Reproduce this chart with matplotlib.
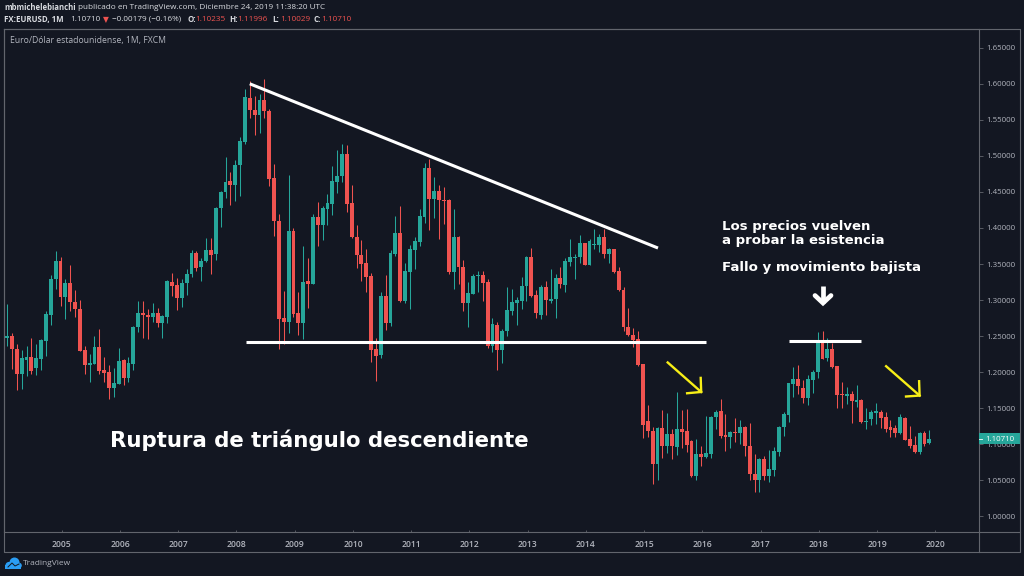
#!/usr/bin/env python
# coding: utf-8

"""Monthly EUR/USD candles with the hand drawn triangle, TradingView dark look."""

import numpy
import matplotlib
matplotlib.use("Agg")
import matplotlib.pyplot as plt
from matplotlib.patches import Circle, Rectangle

opens = [
  1.2472,1.2500,1.2324,1.1981,1.2176,1.2204,1.2060,1.2185,1.2435,1.2796,
  1.3287,1.3542,1.3046,1.3236,1.2972,1.2875,1.2305,1.2102,1.2120,1.2352,
  1.2028,1.2000,1.1782,1.1838,1.2167,1.1917,1.2116,1.2630,1.2819,1.2792,
  1.2764,1.2815,1.2676,1.2764,1.3255,1.3208,1.3032,1.3231,1.3361,1.3657,
  1.3453,1.3537,1.3694,1.3639,1.4282,1.4504,1.4653,1.4597,1.4870,1.5194,
  1.5806,1.5634,1.5565,1.5778,1.5625,1.4690,1.4102,1.2745,1.2694,1.3958,
  1.2819,1.2680,1.3259,1.3222,1.4148,1.4037,1.4264,1.4333,1.4643,1.4722,
  1.5028,1.4342,1.3879,1.3625,1.3514,1.3333,1.2315,1.2236,1.3055,1.2676,
  1.3639,1.3926,1.2986,1.3393,1.3694,1.3805,1.4157,1.4828,1.4402,1.4514,
  1.4393,1.4384,1.3393,1.3870,1.3462,1.2958,1.3087,1.3328,1.3347,1.3245,
  1.2361,1.2657,1.2305,1.2569,1.2851,1.2962,1.2990,1.3194,1.3592,1.3069,
  1.2800,1.3185,1.2981,1.3013,1.3310,1.3212,1.3527,1.3587,1.3592,1.3787,
  1.3486,1.3759,1.3763,1.3879,1.3638,1.3703,1.3407,1.3134,1.2629,1.2513,
  1.2467,1.2111,1.1319,1.1185,1.0722,1.1226,1.0972,1.1138,1.0963,1.1213,
  1.1180,1.1041,1.0555,1.0870,1.0819,1.0861,1.1375,1.1458,1.1134,1.1101,
  1.1166,1.1152,1.1236,1.0981,1.0592,1.0504,1.0791,1.0564,1.0648,1.0898,
  1.1236,1.1412,1.1838,1.1912,1.1787,1.1643,1.1893,1.2000,1.2435,1.2194,
  1.2324,1.2083,1.1694,1.1666,1.1703,1.1588,1.1620,1.1310,1.1347,1.1440,
  1.1449,1.1375,1.1236,1.1222,1.1157,1.1365,1.1074,1.0990,1.0888,1.1152,
  1.10235]
closes = [
  1.2500,1.2315,1.1981,1.2194,1.2204,1.2014,1.2194,1.2444,1.2806,1.3292,
  1.3546,1.3046,1.3236,1.2972,1.2875,1.2296,1.2102,1.2125,1.2352,1.2014,
  1.1991,1.1787,1.1847,1.2162,1.1917,1.2125,1.2630,1.2819,1.2792,1.2764,
  1.2815,1.2676,1.2773,1.3259,1.3199,1.3032,1.3236,1.3366,1.3657,1.3449,
  1.3546,1.3694,1.3625,1.4273,1.4504,1.4643,1.4597,1.4875,1.5204,1.5810,
  1.5630,1.5569,1.5778,1.5616,1.4680,1.4097,1.2736,1.2694,1.3958,1.2805,
  1.2680,1.3254,1.3227,1.4148,1.4041,1.4273,1.4342,1.4653,1.4727,1.5028,
  1.4333,1.3870,1.3620,1.3504,1.3319,1.2310,1.2231,1.3051,1.2676,1.3648,
  1.3926,1.2981,1.3403,1.3704,1.3815,1.4166,1.4828,1.4402,1.4514,1.4384,
  1.4379,1.3393,1.3870,1.3453,1.2962,1.3092,1.3337,1.3347,1.3236,1.2365,
  1.2662,1.2305,1.2578,1.2861,1.2967,1.2995,1.3199,1.3592,1.3060,1.2824,
  1.3185,1.3000,1.3018,1.3310,1.3217,1.3537,1.3592,1.3597,1.3787,1.3486,
  1.3819,1.3773,1.3879,1.3638,1.3703,1.3393,1.3134,1.2624,1.2518,1.2444,
  1.2097,1.1273,1.1185,1.0722,1.1226,1.0981,1.1138,1.0972,1.1217,1.1166,
  1.0995,1.0555,1.0861,1.0824,1.0875,1.1384,1.1449,1.1120,1.1106,1.1166,
  1.1152,1.1236,1.0976,1.0583,1.0509,1.0800,1.0564,1.0657,1.0902,1.1240,
  1.1421,1.1847,1.1912,1.1810,1.1643,1.1902,1.2009,1.2435,1.2190,1.2324,
  1.2078,1.1685,1.1680,1.1703,1.1597,1.1611,1.1310,1.1319,1.1449,1.1458,
  1.1365,1.1213,1.1203,1.1152,1.1375,1.1064,1.0981,1.0888,1.1152,1.1004,
  1.10710]
highs = [
  1.2944,1.2546,1.2398,1.2305,1.2361,1.2472,1.2389,1.2454,1.2852,1.3347,
  1.3685,1.3593,1.3287,1.3491,1.3139,1.3000,1.2361,1.2259,1.2500,1.2593,
  1.2213,1.2093,1.2065,1.2333,1.2185,1.2213,1.2639,1.2981,1.2981,1.2880,
  1.2954,1.2889,1.2792,1.3278,1.3370,1.3306,1.3296,1.3426,1.3694,1.3685,
  1.3578,1.3856,1.3856,1.4287,1.4518,1.4986,1.4782,1.4944,1.5259,1.5921,
  1.6042,1.5829,1.5861,1.6060,1.5653,1.4889,1.4190,1.3125,1.4736,1.3995,
  1.3106,1.3750,1.3588,1.4190,1.4356,1.4310,1.4467,1.4856,1.5079,1.5167,
  1.5157,1.4597,1.4041,1.3833,1.3708,1.3370,1.2477,1.3115,1.3347,1.3694,
  1.4167,1.4301,1.3509,1.3764,1.3870,1.4259,1.4898,1.4963,1.4703,1.4597,
  1.4564,1.4398,1.4259,1.3888,1.3555,1.3250,1.3361,1.3398,1.3398,1.3287,
  1.2749,1.2694,1.2606,1.3175,1.3148,1.3037,1.3319,1.3611,1.3722,1.3138,
  1.3208,1.3259,1.3425,1.3356,1.3458,1.3578,1.3842,1.3638,1.3907,1.3796,
  1.3842,1.3981,1.3916,1.3981,1.3717,1.3713,1.3462,1.3175,1.2893,1.2611,
  1.2573,1.2115,1.1541,1.1240,1.1240,1.1472,1.1439,1.1217,1.1722,1.1472,
  1.1495,1.1064,1.1069,1.0981,1.1388,1.1398,1.1472,1.1625,1.1425,1.1180,
  1.1370,1.1333,1.1250,1.1296,1.0870,1.0814,1.0833,1.0916,1.0963,1.1259,
  1.1444,1.1856,1.2074,1.2097,1.1889,1.1967,1.2037,1.2551,1.2569,1.2481,
  1.2407,1.2088,1.1861,1.1791,1.1736,1.1819,1.1625,1.1500,1.1481,1.1578,
  1.1481,1.1444,1.1333,1.1273,1.1416,1.1375,1.1250,1.1111,1.1176,1.1180,
  1.11996]
lows = [
  1.2370,1.2051,1.1750,1.1768,1.1954,1.1981,1.1958,1.2028,1.2222,1.2657,
  1.3148,1.2917,1.2731,1.2852,1.2768,1.2292,1.1981,1.1861,1.2111,1.1981,
  1.1870,1.1630,1.1657,1.1833,1.1824,1.1861,1.2028,1.2556,1.2472,1.2463,
  1.2694,1.2630,1.2481,1.2676,1.3056,1.2861,1.2907,1.3069,1.3324,1.3407,
  1.3268,1.3532,1.3361,1.3555,1.4018,1.4412,1.4319,1.4375,1.4449,1.5162,
  1.5523,1.5292,1.5315,1.5532,1.4583,1.3889,1.2319,1.2393,1.2546,1.2764,
  1.2514,1.2458,1.2884,1.3217,1.3750,1.3833,1.4041,1.4180,1.4486,1.4634,
  1.4222,1.3866,1.3449,1.3264,1.3115,1.2143,1.1875,1.2199,1.2583,1.2643,
  1.3616,1.2967,1.2958,1.2875,1.3430,1.3750,1.4064,1.3972,1.4134,1.3842,
  1.4055,1.3361,1.3148,1.3222,1.2851,1.2620,1.3083,1.3115,1.2990,1.2333,
  1.2282,1.2027,1.2129,1.2499,1.2791,1.2657,1.2874,1.2990,1.3037,1.2754,
  1.2740,1.2796,1.2962,1.2754,1.3171,1.3106,1.3476,1.3291,1.3518,1.3481,
  1.3481,1.3713,1.3666,1.3587,1.3509,1.3370,1.3129,1.2573,1.2509,1.2351,
  1.2092,1.1092,1.1101,1.0453,1.0509,1.0814,1.0879,1.0796,1.0847,1.0953,
  1.0893,1.0546,1.0509,1.0694,1.0805,1.0814,1.1208,1.1092,1.0907,1.0944,
  1.1037,1.0999,1.0842,1.0509,1.0338,1.0333,1.0499,1.0481,1.0560,1.0833,
  1.1111,1.1310,1.1657,1.1703,1.1574,1.1551,1.1713,1.1921,1.2185,1.2157,
  1.2060,1.1500,1.1500,1.1564,1.1296,1.1518,1.1301,1.1208,1.1264,1.1278,
  1.1226,1.1171,1.1101,1.1101,1.1148,1.1055,1.0953,1.0880,1.0870,1.0976,
  1.10029]

year_ticks = [11.25 + 12*k for k in range(16)]
year_labels = [str(2005 + k) for k in range(16)]
price_ticks = [1.00, 1.05, 1.10, 1.15, 1.20, 1.25, 1.30, 1.35, 1.40, 1.45, 1.50, 1.55, 1.60, 1.65]
last_price = 1.10710

# The hand drawn lines, as (candle number, price)
trend_line = ([50.0, 134.1], [1.6000, 1.3722])
support_line = ([49.2, 143.9], [1.2417, 1.2417])
retest_line = ([161.1, 175.9], [1.2431, 1.2431])
arrow_one = ([136.1, 143.0], [1.2135, 1.1726])
arrow_one_head = ([142.9, 143.0, 140.1], [1.1921, 1.1726, 1.1708])
arrow_two = ([181.1, 188.0], [1.2083, 1.1676])
arrow_two_head = ([187.9, 188.0, 185.2], [1.1875, 1.1676, 1.1663])

BG = "#131722"
UP = "#26a69a"
DOWN = "#ef5350"
LINE = "#62656d"
TEXT = "#b2b5be"
HEAD = "#d9dbe0"
SANS = "Open Sans"

W, H = 1024, 576
fig = plt.figure(figsize=(W/100, H/100), dpi=100, facecolor=BG)

# Chart pane, placed by its pixel edges
left, right, top, bottom = 4.3, 979.3, 29.0, 532.3
ax = fig.add_axes([left/W, 1 - bottom/H, (right-left)/W, (bottom-top)/H], facecolor=BG)
ax.set_xlim(-0.58, 200.3)
ax.set_ylim(0.97795, 1.6760)

x = numpy.arange(len(opens))
o, c, h, l = [numpy.array(v) for v in (opens, closes, highs, lows)]
colors = [UP if b >= a else DOWN for a, b in zip(o, c)]
ax.vlines(x, l, h, colors=colors, linewidth=0.75, zorder=2)
ax.bar(x, numpy.abs(c - o), bottom=numpy.minimum(o, c), width=0.8, color=colors, linewidth=0, zorder=3)

ax.plot(*trend_line, color="white", lw=2.2, solid_capstyle="butt", zorder=5)
ax.plot(*support_line, color="white", lw=2.2, solid_capstyle="butt", zorder=5)
ax.plot(*retest_line, color="white", lw=2.2, solid_capstyle="butt", zorder=5)
for line in (arrow_one, arrow_one_head, arrow_two, arrow_two_head):
  ax.plot(*line, color="#f7ee17", lw=1.7, zorder=5, solid_joinstyle="miter")

for side in ax.spines.values():
  side.set_color(LINE)
  side.set_linewidth(0.8)

ax.set_xticks(year_ticks)
ax.set_xticklabels(year_labels, fontfamily=SANS, fontsize=6.2, fontweight="semibold", color=TEXT)
ax.tick_params(axis="x", direction="in", length=1.5, width=0.6, color=LINE, pad=5.2)
ax.yaxis.tick_right()
ax.set_yticks(price_ticks)
ax.set_yticklabels(["{:.5f}".format(p) for p in price_ticks], fontfamily=SANS, fontsize=5.7, color=TEXT)
ax.tick_params(axis="y", direction="out", length=3, width=0.6, color=LINE, pad=2.2)

# Everything around the pane goes on a pixel overlay
chrome = fig.add_axes([0, 0, 1, 1], zorder=10)
chrome.set_xlim(0, W)
chrome.set_ylim(H, 0)
chrome.axis("off")

chrome.plot([left, 1019.7, 1019.7, left, left], [top, top, 551.5, 551.5, top], color=LINE, lw=0.8)
chrome.plot([right, right], [bottom, 551.5], color=LINE, lw=0.8)
chrome.plot([right, 1019.7], [bottom, bottom], color=LINE, lw=0.8)

def label(px, py, s, color=HEAD, size=5.9, weight="normal", family=SANS, **kwargs):
  return chrome.text(px, py, s, color=color, fontsize=size, fontweight=weight, fontfamily=family,
                     ha=kwargs.pop("ha", "left"), va="center", **kwargs)

label(4.5, 7.5, "mbmichelebianchi", size=5.6, weight="bold")
label(78, 7.5, "publicado en TradingView.com, Diciembre 24, 2019 11:38:20 UTC")
label(4.5, 19.5, "FX:EURUSD, 1M", size=5.7, weight="bold")
label(70, 19.5, "1.10710")
label(103, 19.5, "\u25bc", color=DOWN, size=5.5, family="DejaVu Sans")
label(112, 19.5, "\u22120.00179 (\u22120.16%)")
for px, s, value in [(187, "O:", "1.10235"), (229, "H:", "1.11996"), (272, "L:", "1.10029"), (313, "C:", "1.10710")]:
  label(px, 19.5, s, size=5.7, weight="bold")
  label(px + 8.5, 19.5, value, color=DOWN)
label(10, 40.5, "Euro/D\u00f3lar estadounidense, 1M, FXCM", color=TEXT, size=6.2)

# Last price tag sits over the 1.10000 tick label
tag_y = H - ax.transData.transform((0, last_price))[1]
chrome.add_patch(Rectangle((right, tag_y - 6.5), 1019.7 - right, 11.5, color=UP, lw=0))
chrome.plot([right, right + 3], [tag_y, tag_y], color="white", lw=0.6)
label(985.2, tag_y, "{:.5f}".format(last_price), color="white", size=5.7)

BOLD = "DejaVu Sans"
label(110, 440, "Ruptura de tri\u00e1ngulo descendiente", color="white", size=15.3, weight="bold", family=BOLD)
label(721.5, 226.5, "Los precios vuelven", color="white", size=9.55, weight="bold", family=BOLD)
label(721.5, 240.5, "a probar la esistencia", color="white", size=9.55, weight="bold", family=BOLD)
label(721.5, 267, "Fallo y movimiento bajista", color="white", size=9.6, weight="bold", family=BOLD)

# The fat white down arrow
chrome.plot([823, 823], [286, 303], color="white", lw=3.4, solid_capstyle="butt")
chrome.plot([815, 823, 831], [295.5, 303, 295.5], color="white", lw=3.4, solid_joinstyle="miter", solid_capstyle="round")

# Cloud logo and wordmark
for cx, cy, r in [(9, 565.5, 3.6), (14.5, 562.5, 5.0), (19, 565.5, 2.8)]:
  chrome.add_patch(Circle((cx, cy), r, color="#2a9df4", lw=0))
chrome.add_patch(Rectangle((5, 565), 16, 4, color="#2a9df4", lw=0))
chrome.plot([8, 12, 15, 19], [567, 563, 566, 564], color=BG, lw=0.7)
label(23, 563.5, "TradingView", color=TEXT, size=6.0)

fig.savefig("out.png", dpi=100, facecolor=BG)
